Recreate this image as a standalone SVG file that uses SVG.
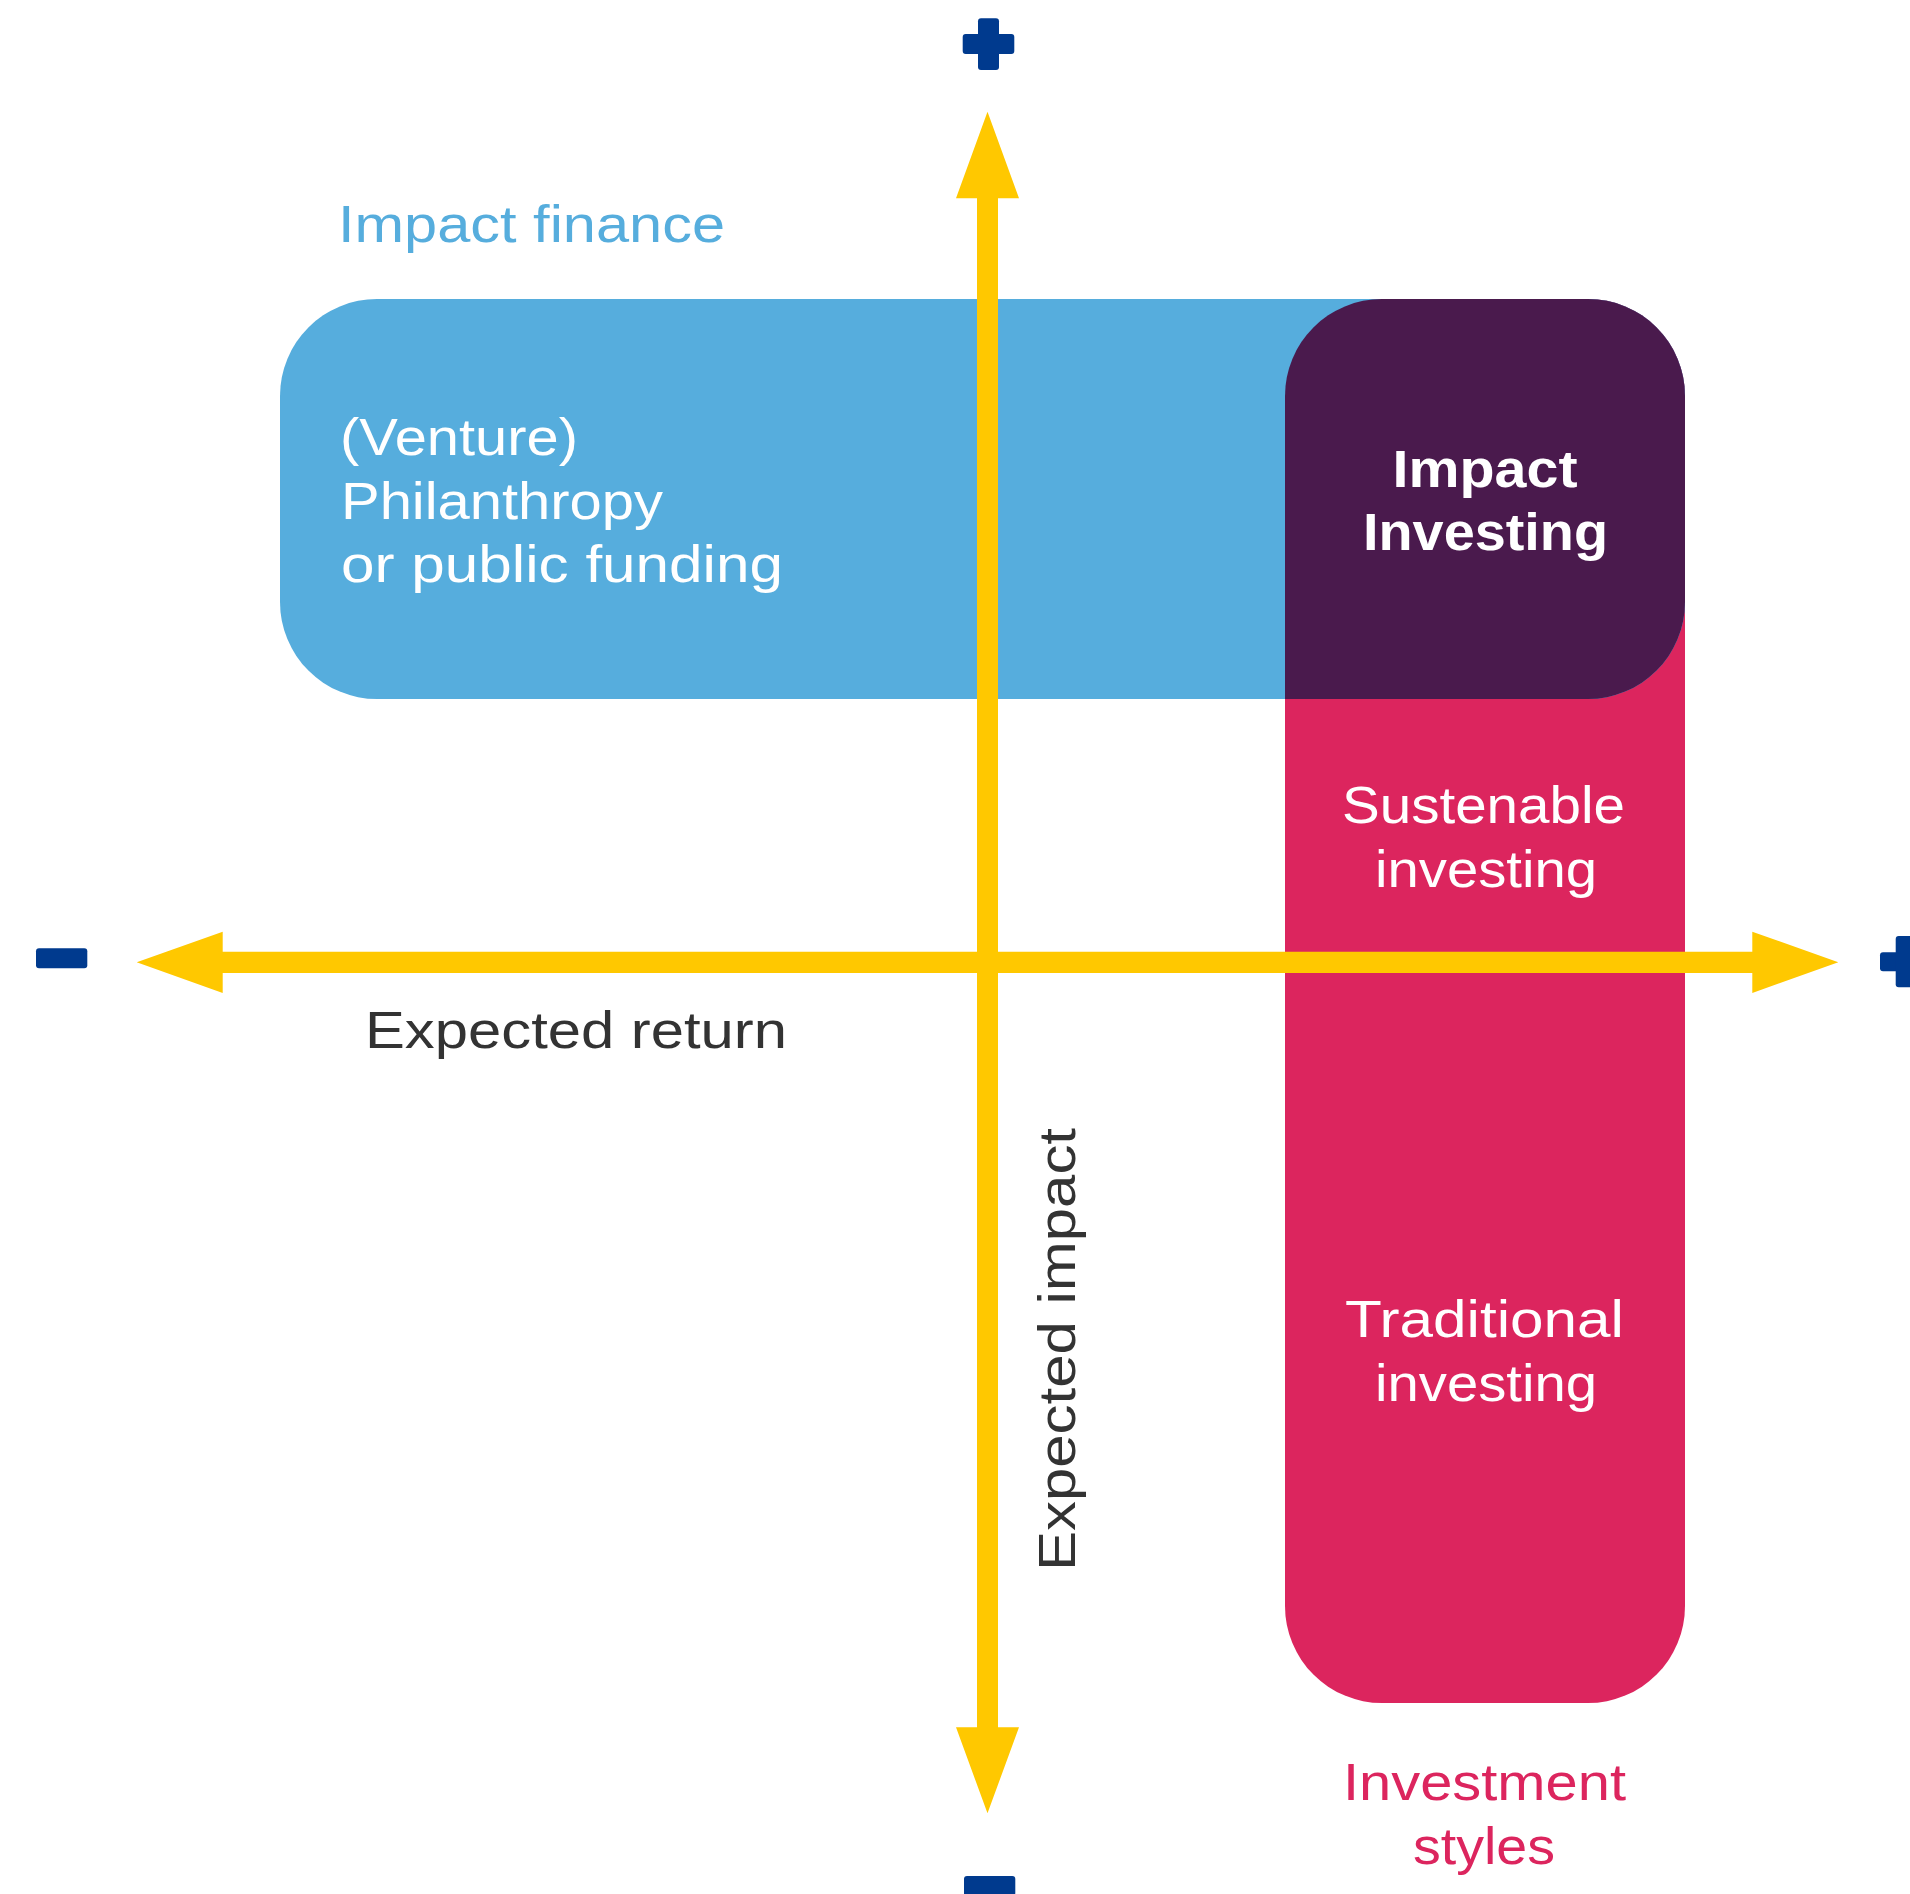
<svg xmlns="http://www.w3.org/2000/svg" width="1910" height="1894" viewBox="0 0 1910 1894">
<style>
.t{font-family:"Liberation Sans",Arial,sans-serif;font-size:52px}
.w{fill:#ffffff}
.b{font-weight:bold;font-size:51px}
.arrow{fill:#FFC800}
.sign{fill:#003A8E}
</style>
<rect width="1910" height="1894" fill="#ffffff"/>
<g id="investment-styles">
<rect x="1285" y="299" width="400" height="1404" rx="97" fill="#DC255E"/>
</g>
<g id="impact-finance">
<rect x="280" y="299" width="1405" height="400" rx="97" fill="#56ADDD"/>
</g>
<g id="impact-investing">
<path d="M1285,396 A97,97 0 0 1 1382,299 H1588 A97,97 0 0 1 1685,396 V602 A97,97 0 0 1 1588,699 H1285 Z" fill="#4A1A4D"/>
</g>
<g id="connectors">
<polygon class="arrow" points="987.5,111.7 1019,198.3 998,198.3 998,1727.3 1019,1727.3 987.5,1813.3 956,1727.3 977,1727.3 977,198.3 956,198.3"/>
<polygon class="arrow" points="136.7,962.3 222.7,931.7 222.7,951.7 1752.3,951.7 1752.3,931.7 1838.3,962.3 1752.3,993 1752.3,973 222.7,973 222.7,993"/>
</g>
<g id="signs">
<rect class="sign" x="962.7" y="34" width="51.6" height="20" rx="3"/>
<rect class="sign" x="978" y="18.3" width="21" height="51.7" rx="3"/>
<rect class="sign" x="1880" y="952.3" width="52" height="19" rx="3"/>
<rect class="sign" x="1895.7" y="936" width="21" height="51.3" rx="3"/>
<rect class="sign" x="36" y="948.3" width="51.3" height="20" rx="3"/>
<rect class="sign" x="964" y="1876" width="51.3" height="20" rx="3"/>
</g>
<g id="labels">
<text class="t" x="338" y="242" fill="#56ADDD" textLength="387" lengthAdjust="spacingAndGlyphs">Impact finance</text>
<text class="t w" x="340" y="455" textLength="238" lengthAdjust="spacingAndGlyphs">(Venture)</text>
<text class="t w" x="341" y="518.5" textLength="322" lengthAdjust="spacingAndGlyphs">Philanthropy</text>
<text class="t w" x="341" y="582" textLength="442" lengthAdjust="spacingAndGlyphs">or public funding</text>
<text class="t w b" x="1392.5" y="486.5" textLength="185" lengthAdjust="spacingAndGlyphs">Impact</text>
<text class="t w b" x="1363" y="550" textLength="245" lengthAdjust="spacingAndGlyphs">Investing</text>
<text class="t w" x="1342" y="823" textLength="283" lengthAdjust="spacingAndGlyphs">Sustenable</text>
<text class="t w" x="1375" y="886.5" textLength="222" lengthAdjust="spacingAndGlyphs">investing</text>
<text class="t w" x="1345" y="1337" textLength="279" lengthAdjust="spacingAndGlyphs">Traditional</text>
<text class="t w" x="1375" y="1400.5" textLength="222" lengthAdjust="spacingAndGlyphs">investing</text>
<text class="t" x="365" y="1048" fill="#333333" textLength="422" lengthAdjust="spacingAndGlyphs">Expected return</text>
<text class="t" transform="translate(1075,1571) rotate(-90)" x="0" y="0" fill="#333333" textLength="443" lengthAdjust="spacingAndGlyphs">Expected impact</text>
<text class="t" x="1343" y="1800" fill="#DC255E" textLength="283" lengthAdjust="spacingAndGlyphs">Investment</text>
<text class="t" x="1413" y="1863.5" fill="#DC255E" textLength="142" lengthAdjust="spacingAndGlyphs">styles</text>
</g>
</svg>
